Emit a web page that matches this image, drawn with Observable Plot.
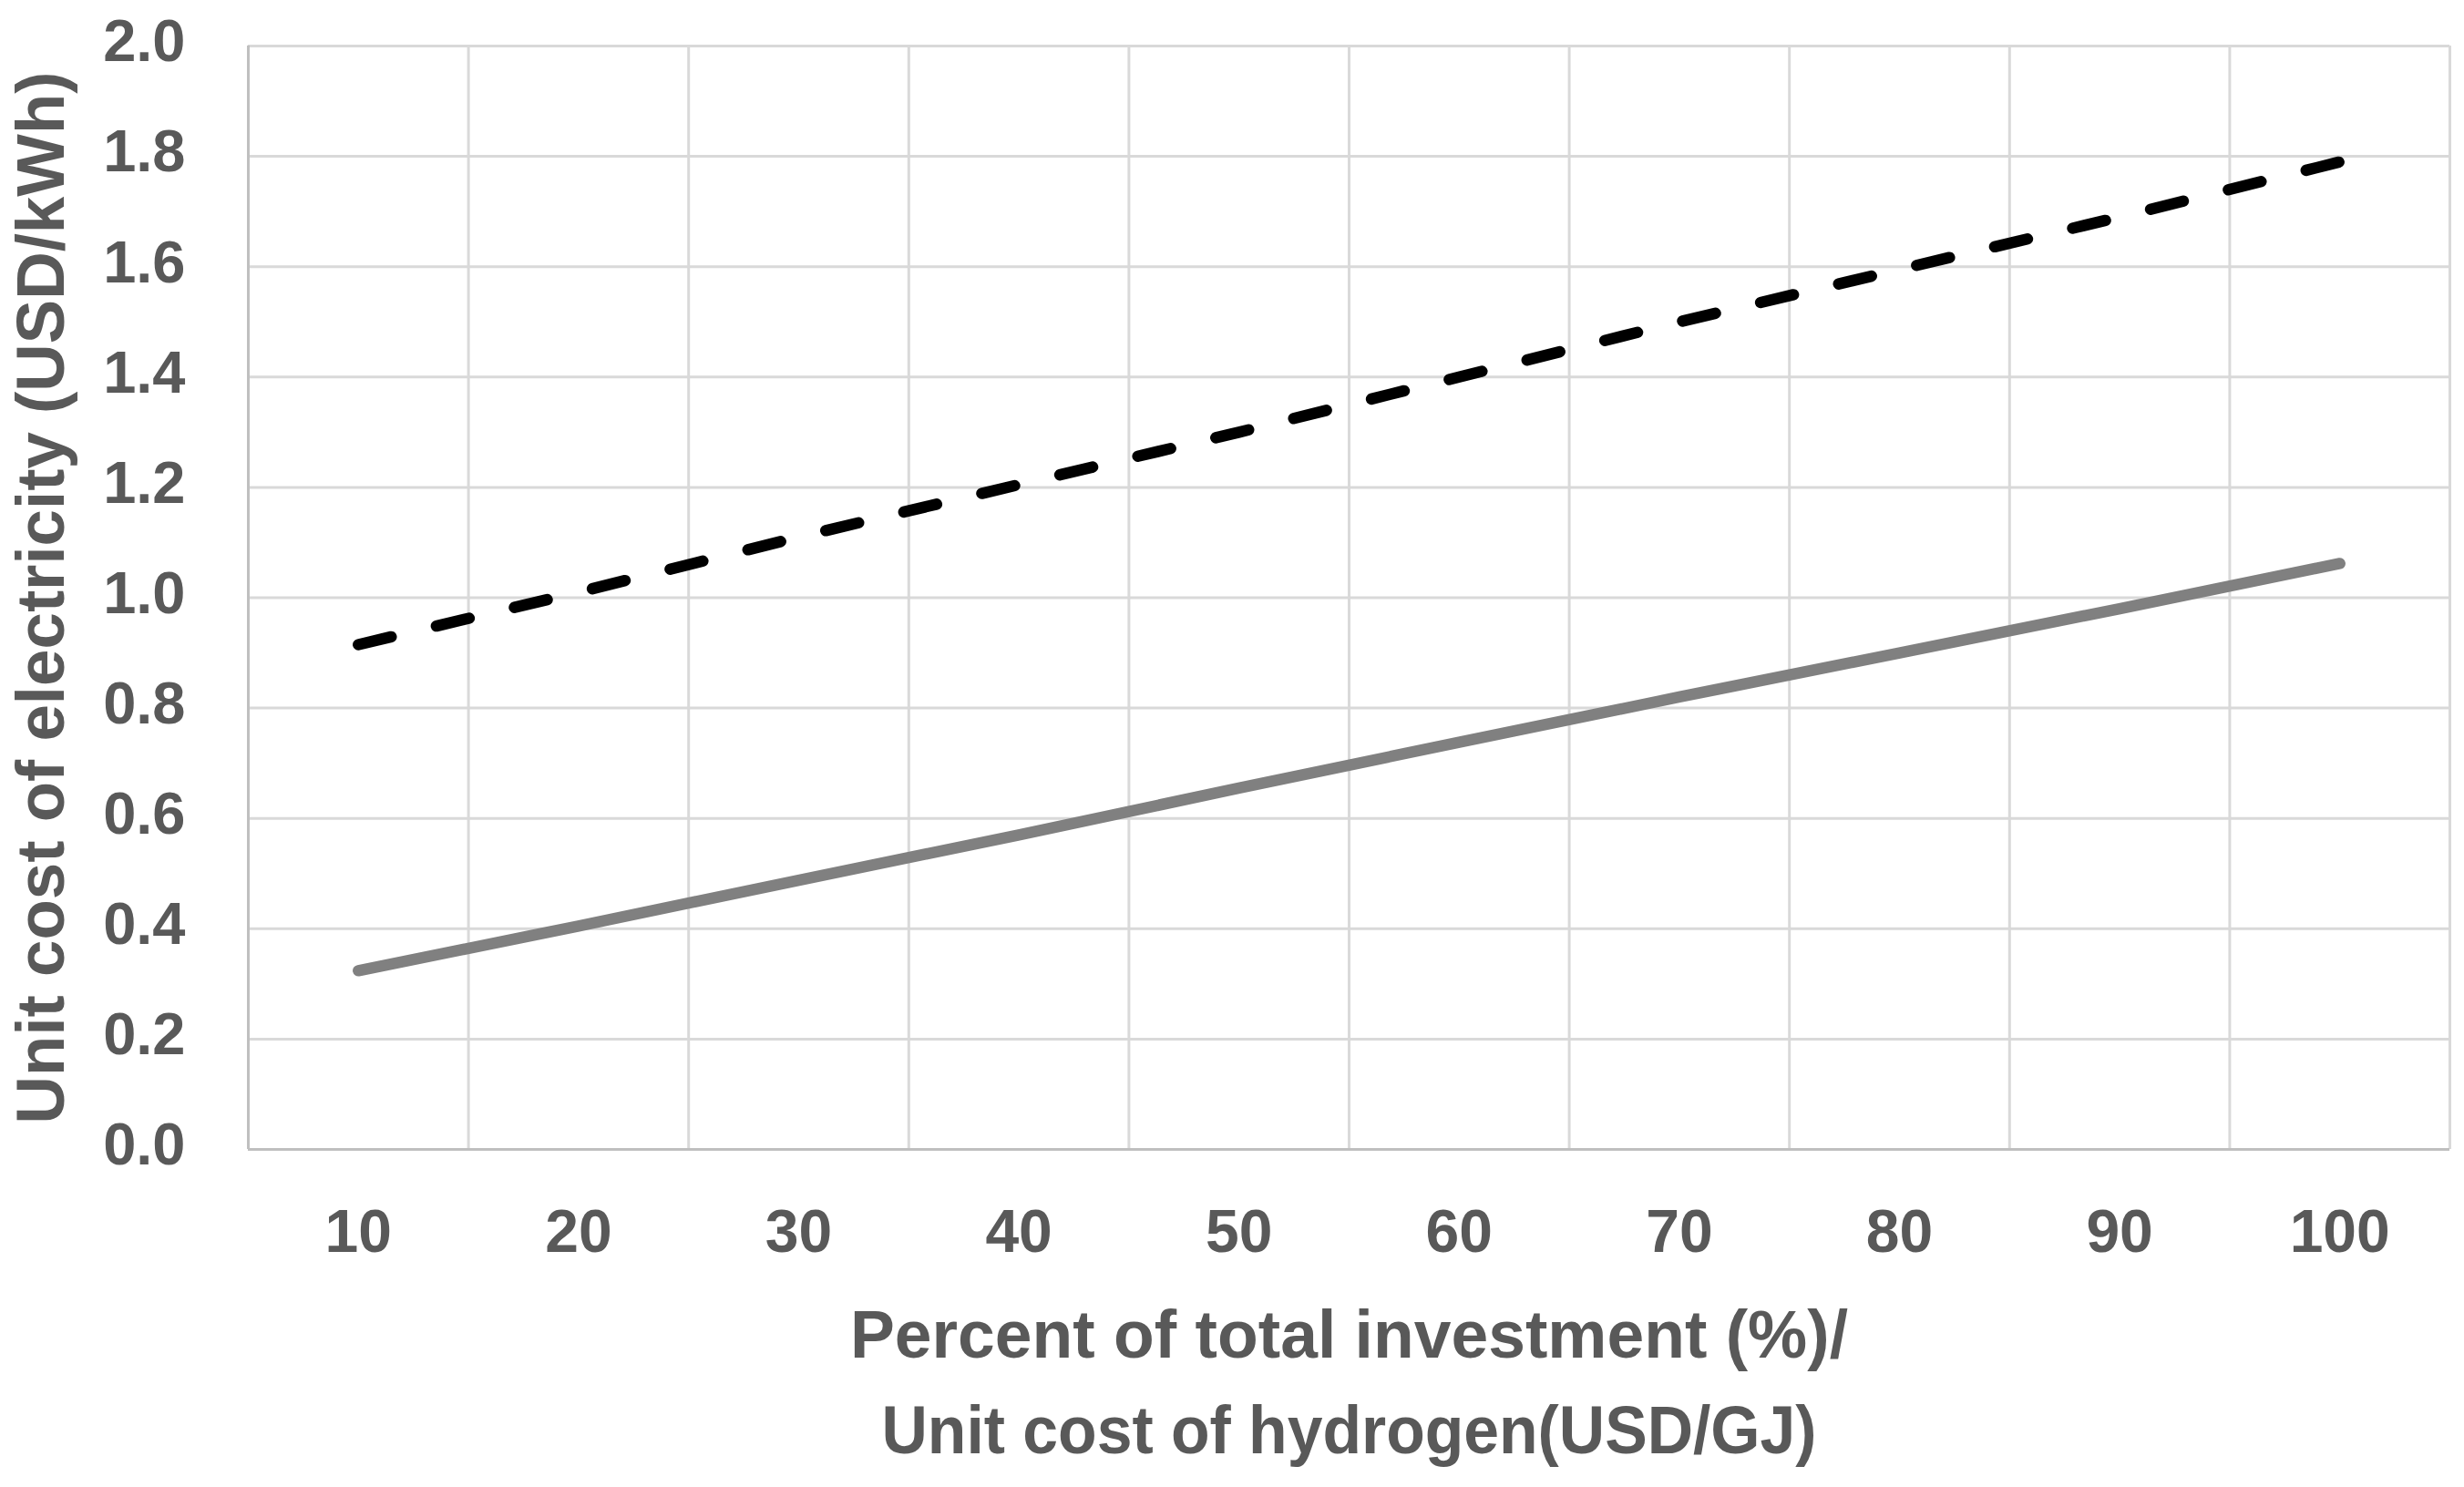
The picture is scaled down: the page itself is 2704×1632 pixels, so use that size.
<!DOCTYPE html>
<html>
<head>
<meta charset="utf-8">
<script src="https://cdn.jsdelivr.net/npm/d3@7"></script>
<script src="https://cdn.jsdelivr.net/npm/@observablehq/plot@0.6"></script>
<style>
  html, body { margin: 0; padding: 0; background: #ffffff; }
  svg { display: block; }
</style>
</head>
<body>
<div id="chart"></div>
<script>
// ---- data ----
const categories = [10, 20, 30, 40, 50, 60, 70, 80, 90, 100];
const seriesDashed = [0.915, 1.01, 1.11, 1.205, 1.30, 1.40, 1.50, 1.595, 1.69, 1.79];
const seriesSolid = [0.324, 0.405, 0.488, 0.57, 0.655, 0.738, 0.82, 0.90, 0.98, 1.062];
const yTicks = [0, 0.2, 0.4, 0.6, 0.8, 1.0, 1.2, 1.4, 1.6, 1.8, 2.0];
const xTitle1 = "Percent of total investment (%)/";
const xTitle2 = "Unit cost of hydrogen(USD/GJ)";
const yTitle = "Unit cost of electricity (USD/kWh)";

// ---- derived tables ----
const half = (categories[1] - categories[0]) / 2;
const boundaries = categories.map(c => c - half).concat([categories[categories.length - 1] + half]);
const dashedRows = categories.map((c, i) => ({x: c, y: seriesDashed[i]}));
const solidRows = categories.map((c, i) => ({x: c, y: seriesSolid[i]}));

const tickFont = "'Liberation Sans', Arial, sans-serif";
const titleFont = "'Liberation Sans Narrow', 'Arial Narrow', 'Liberation Sans', sans-serif";
const textColor = "#595959";

const chart = Plot.plot({
  width: 2704,
  height: 1632,
  marginLeft: 272,
  marginRight: 16,
  marginTop: 50,
  marginBottom: 371,
  style: {background: "#ffffff", overflow: "visible"},
  x: {type: "linear", domain: [boundaries[0], boundaries[boundaries.length - 1]]},
  y: {type: "linear", domain: [0, 2.0]},
  marks: [
    Plot.ruleY(yTicks.slice(1), {stroke: "#d9d9d9", strokeWidth: 3}),
    Plot.ruleX(boundaries.slice(1), {stroke: "#d9d9d9", strokeWidth: 3}),
    Plot.ruleX([boundaries[0]], {stroke: "#bfbfbf", strokeWidth: 3}),
    Plot.ruleY([0], {stroke: "#bfbfbf", strokeWidth: 3}),
    Plot.axisY({
      ticks: yTicks, tickSize: 0, tickPadding: 69, tickFormat: d3.format(".1f"),
      fontSize: 65, fontWeight: "bold", fill: textColor, fontFamily: tickFont,
      label: null, dy: -4
    }),
    Plot.axisX({
      ticks: categories, tickSize: 0, tickPadding: 66, tickFormat: d => String(d),
      fontSize: 66, fontWeight: "bold", fill: textColor, fontFamily: tickFont,
      label: null
    }),
    Plot.line(solidRows, {
      x: "x", y: "y", stroke: "#808080", strokeWidth: 12.5,
      strokeLinecap: "round", strokeLinejoin: "round"
    }),
    Plot.line(dashedRows, {
      x: "x", y: "y", stroke: "#000000", strokeWidth: 12.5,
      strokeDasharray: "37,51", strokeLinecap: "round", strokeLinejoin: "round"
    }),
    Plot.text([xTitle1], {
      frameAnchor: "bottom", text: d => d, dy: 204, lineAnchor: "middle", textAnchor: "middle",
      fontSize: 75, fontWeight: "bold", fill: textColor, fontFamily: titleFont
    }),
    Plot.text([xTitle2], {
      frameAnchor: "bottom", text: d => d, dy: 309, lineAnchor: "middle", textAnchor: "middle",
      fontSize: 75, fontWeight: "bold", fill: textColor, fontFamily: titleFont
    }),
    Plot.text([yTitle], {
      frameAnchor: "left", text: d => d, dx: -227, rotate: -90, lineAnchor: "middle", textAnchor: "middle",
      fontSize: 75, fontWeight: "bold", fill: textColor, fontFamily: titleFont
    })
  ]
});

// fit title widths to the reference
const widths = {};
widths[xTitle1] = 1095;
widths[xTitle2] = 1026;
widths[yTitle] = 1155;
chart.querySelectorAll("text").forEach(t => {
  const s = t.textContent;
  if (widths[s]) {
    t.setAttribute("textLength", widths[s]);
    t.setAttribute("lengthAdjust", "spacingAndGlyphs");
  }
});

document.getElementById("chart").appendChild(chart);
</script>
</body>
</html>
